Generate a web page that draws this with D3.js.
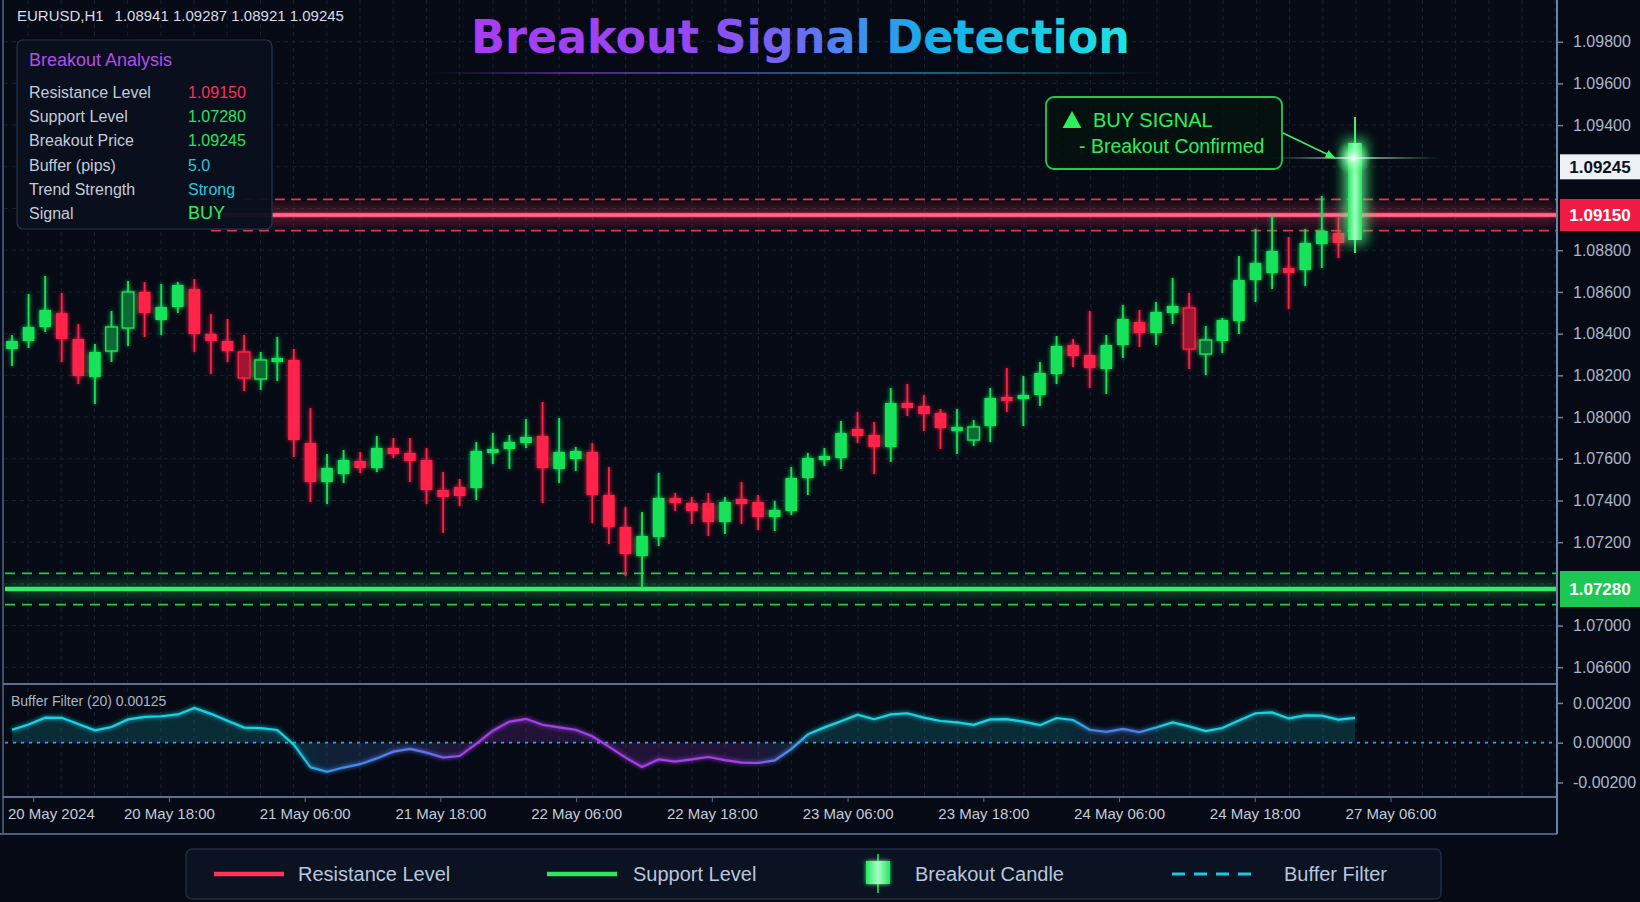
<!DOCTYPE html>
<head>
<meta charset="utf-8">
<title>Breakout Signal Detection</title>
<script src="https://d3js.org/d3.v7.min.js"></script>
<style>
body { margin: 0; background: #060a14; }
svg { display: block; font-family: "Liberation Sans", Arial, sans-serif; }
.grid line { stroke: #172233; stroke-dasharray: 4,4; stroke-width: 1; }
.axis path { display: none; }
.axis line { stroke: #6a82a6; stroke-width: 1.5; }
.axis text { fill: #a9b6cb; font-size: 16px; }
.xlabel { fill: #c3ccdb; font-size: 15px; }
.frame { stroke: #5b7191; stroke-width: 2; }
.panel-label { fill: #c3cbd9; font-size: 16px; }
.legend-text { fill: #b9c6dc; font-size: 20px; }
</style>
</head>
<body>
<div id="container"></div>
<script>
//---------------------------- DATA ----------------------------//
const symbolName = "EURUSD,H1";
const headerOHLC = ["1.08941", "1.09287", "1.08921", "1.09245"];

const opens = [1.08480,1.08520,1.08590,1.08660,1.08530,1.08340,1.08470,1.08585,1.08765,1.08625,
  1.08690,1.08780,1.08555,1.08520,1.08465,1.08330,1.08415,1.08425,1.08010,1.07815,
  1.07855,1.07920,1.07885,1.07985,1.07960,1.07925,1.07775,1.07790,1.07785,1.07960,
  1.07980,1.08010,1.08045,1.07880,1.07930,1.07965,1.07750,1.07590,1.07445,1.07540,
  1.07735,1.07710,1.07710,1.07615,1.07730,1.07715,1.07640,1.07670,1.07835,1.07925,
  1.07935,1.08080,1.08050,1.07990,1.08210,1.08195,1.08160,1.08070,1.08025,1.08095,
  1.08240,1.08230,1.08250,1.08355,1.08500,1.08450,1.08380,1.08500,1.08615,1.08560,
  1.08660,1.08685,1.08455,1.08520,1.08620,1.08825,1.08860,1.08885,1.08875,1.09005,
  1.09060,1.09025];
const highs = [1.08550,1.08755,1.08845,1.08760,1.08605,1.08505,1.08670,1.08820,1.08815,1.08805,
  1.08815,1.08830,1.08655,1.08630,1.08550,1.08465,1.08540,1.08480,1.08185,1.07955,
  1.07975,1.07965,1.08045,1.08035,1.08035,1.07985,1.07865,1.07830,1.08015,1.08060,
  1.08050,1.08130,1.08215,1.08135,1.07990,1.08010,1.07890,1.07690,1.07665,1.07860,
  1.07760,1.07740,1.07760,1.07740,1.07815,1.07750,1.07720,1.07890,1.07960,1.07985,
  1.08120,1.08165,1.08115,1.08285,1.08305,1.08250,1.08180,1.08180,1.08125,1.08285,
  1.08385,1.08345,1.08415,1.08545,1.08530,1.08670,1.08550,1.08700,1.08675,1.08715,
  1.08835,1.08760,1.08595,1.08635,1.08945,1.09080,1.09150,1.09040,1.09080,1.09245,
  1.09140,1.09640];
const lows = [1.08395,1.08485,1.08565,1.08415,1.08305,1.08205,1.08415,1.08495,1.08540,1.08550,
  1.08660,1.08465,1.08355,1.08415,1.08270,1.08275,1.08320,1.07940,1.07715,1.07705,
  1.07810,1.07860,1.07865,1.07935,1.07815,1.07705,1.07560,1.07695,1.07725,1.07905,
  1.07880,1.07985,1.07710,1.07810,1.07870,1.07610,1.07505,1.07345,1.07285,1.07495,
  1.07670,1.07605,1.07545,1.07555,1.07605,1.07575,1.07570,1.07650,1.07750,1.07895,
  1.07880,1.08010,1.07855,1.07915,1.08145,1.08070,1.07980,1.07955,1.07995,1.08015,
  1.08165,1.08095,1.08195,1.08305,1.08390,1.08285,1.08255,1.08435,1.08490,1.08500,
  1.08605,1.08380,1.08350,1.08460,1.08555,1.08715,1.08780,1.08680,1.08795,1.08885,
  1.08935,1.08960];
const closes = [1.08520,1.08590,1.08675,1.08530,1.08345,1.08465,1.08590,1.08765,1.08660,1.08690,
  1.08800,1.08555,1.08520,1.08470,1.08335,1.08425,1.08435,1.08025,1.07815,1.07885,
  1.07925,1.07885,1.07985,1.07955,1.07920,1.07775,1.07740,1.07745,1.07970,1.07980,
  1.08015,1.08040,1.07885,1.07965,1.07970,1.07750,1.07590,1.07455,1.07545,1.07735,
  1.07710,1.07670,1.07615,1.07715,1.07705,1.07640,1.07675,1.07835,1.07935,1.07945,
  1.08060,1.08045,1.07990,1.08210,1.08185,1.08155,1.08085,1.08090,1.08090,1.08235,
  1.08220,1.08250,1.08360,1.08495,1.08445,1.08385,1.08500,1.08630,1.08560,1.08665,
  1.08695,1.08480,1.08525,1.08625,1.08825,1.08910,1.08970,1.08860,1.09010,1.09070,
  1.09010,1.09510];
// candles drawn faded in the picture
const dimCandles = [6, 7, 14, 15, 58, 71, 72];

const bufferFilter = [0.00065,0.00091,0.00126,0.00125,0.00094,0.00062,0.00079,0.00117,0.00130,0.00133,
  0.00142,0.00175,0.00145,0.00110,0.00076,0.00073,0.00064,-0.00010,-0.00124,-0.00147,
  -0.00125,-0.00108,-0.00079,-0.00045,-0.00031,-0.00050,-0.00075,-0.00067,-0.00006,0.00060,
  0.00106,0.00120,0.00090,0.00077,0.00065,0.00032,-0.00020,-0.00075,-0.00122,-0.00084,
  -0.00095,-0.00084,-0.00072,-0.00088,-0.00100,-0.00102,-0.00089,-0.00032,0.00042,0.00077,
  0.00108,0.00141,0.00118,0.00142,0.00148,0.00126,0.00109,0.00102,0.00090,0.00117,
  0.00118,0.00106,0.00088,0.00124,0.00114,0.00065,0.00054,0.00069,0.00053,0.00076,
  0.00102,0.00082,0.00058,0.00074,0.00112,0.00148,0.00152,0.00122,0.00137,0.00136,
  0.00116,0.00125];
const bufferPeriod = 20;

const resistance = 1.09150;
const support = 1.07280;
const bufferBand = 0.00078;

const priceLabels = ["1.09800","1.09600","1.09400","1.09245","1.09150","1.08800","1.08600","1.08400",
  "1.08200","1.08000","1.07600","1.07400","1.07200","1.07280","1.07000","1.06600"];
const tagLabels = ["1.09245","1.09150","1.07280"];
const subTicks = [0.002, 0, -0.002];
const timeLabels = ["20 May 2024","20 May 18:00","21 May 06:00","21 May 18:00","22 May 06:00",
  "22 May 18:00","23 May 06:00","23 May 18:00","24 May 06:00","24 May 18:00","27 May 06:00"];

const panelLabels = ["Resistance Level","Support Level","Breakout Price","Buffer (pips)","Trend Strength","Signal"];
const panelValues = ["1.09150","1.07280","1.09245","5.0","Strong","BUY"];
const legendNames = ["Resistance Level","Support Level","Breakout Candle","Buffer Filter"];

//---------------------------- LAYOUT ----------------------------//
const width = 1640, height = 902;
const axisX = 1557, mainBottom = 684, subBottom = 797, xLabelLine = 834;
const GREEN = "#16e35a", RED = "#ff2048";
const panelColors = ["#ff2d55", "#27e35c", "#27e35c", "#20c8dc", "#20c8dc", "#2bef5a"];

const svg = d3.select("#container").append("svg")
    .attr("width", width).attr("height", height);

svg.append("rect").attr("width", width).attr("height", height).attr("fill", "#060a14");

const defs = svg.append("defs");
function glow(id, sd) {
  const f = defs.append("filter").attr("id", id)
      .attr("filterUnits", "userSpaceOnUse")
      .attr("x", 0).attr("y", 0).attr("width", width).attr("height", height);
  f.append("feGaussianBlur").attr("in", "SourceGraphic").attr("stdDeviation", sd).attr("result", "b");
  const m = f.append("feMerge");
  m.append("feMergeNode").attr("in", "b");
  m.append("feMergeNode").attr("in", "SourceGraphic");
}
glow("glow", 2);
glow("glowBig", 7);
defs.append("filter").attr("id", "blur")
    .attr("filterUnits", "userSpaceOnUse")
    .attr("x", 0).attr("y", 0).attr("width", width).attr("height", height)
  .append("feGaussianBlur").attr("stdDeviation", 6);

function linGrad(id, x1, x2, stops) {
  const g = defs.append("linearGradient").attr("id", id)
      .attr("gradientUnits", "userSpaceOnUse")
      .attr("x1", x1).attr("x2", x2).attr("y1", 0).attr("y2", 0);
  stops.forEach(s => g.append("stop").attr("offset", s[0]).attr("stop-color", s[1])
      .attr("stop-opacity", s[2] === undefined ? 1 : s[2]));
  return g;
}
linGrad("titleGrad", 471, 1130, [[0, "#a93cf1"], [0.35, "#9548f2"], [0.5, "#6c6cf0"],
  [0.6, "#3a92ee"], [0.7, "#17aee8"], [1, "#1ee3e0"]]);
linGrad("underGrad", 429, 1161, [[0, "#8a3ad8", 0], [0.2, "#8a3ad8", 0.8], [0.7, "#1aa0b8", 0.8], [1, "#1aa0b8", 0]]);
linGrad("bufGrad", 0, axisX, [[0, "#18d4e4"], [290 / axisX, "#18d4e4"], [330 / axisX, "#3f8fe8"],
  [420 / axisX, "#5c74ee"], [470 / axisX, "#a33fe6"], [740 / axisX, "#a33fe6"], [790 / axisX, "#4a8fea"],
  [815 / axisX, "#18d4e4"], [1065 / axisX, "#18d4e4"], [1095 / axisX, "#4a82e8"], [1140 / axisX, "#4a82e8"],
  [1165 / axisX, "#18d4e4"], [1, "#18d4e4"]]);
linGrad("flareGrad", 1270, 1440, [[0, "#7dffa0", 0], [0.5, "#e6fff0", 1], [1, "#7dffa0", 0]]);
linGrad("candleGrad", 0, 1, [[0, "#22e862"], [0.5, "#a8ffc4"], [1, "#22e862"]])
    .attr("gradientUnits", "objectBoundingBox");
const rg = defs.append("radialGradient").attr("id", "glare");
rg.append("stop").attr("offset", 0).attr("stop-color", "#ffffff");
rg.append("stop").attr("offset", 0.2).attr("stop-color", "#c8ffd8").attr("stop-opacity", 0.85);
rg.append("stop").attr("offset", 1).attr("stop-color", "#22ff66").attr("stop-opacity", 0);

defs.append("clipPath").attr("id", "mainClip").append("rect")
    .attr("x", 4).attr("y", 0).attr("width", axisX - 4).attr("height", mainBottom);

defs.append("marker").attr("id", "arrow").attr("viewBox", "0 0 10 10")
    .attr("refX", 9).attr("refY", 5).attr("markerWidth", 7).attr("markerHeight", 7)
    .attr("orient", "auto")
  .append("path").attr("d", "M0,1 L10,5 L0,9 z").attr("fill", "#3cf06a");

//---------------------------- SCALES ----------------------------//
const candles = opens.map((o, i) => ({
  i: i, o: o, h: highs[i], l: lows[i], c: closes[i], dim: dimCandles.includes(i)
}));
const last = candles.length - 1;
const x = d3.scaleLinear().domain([0, last]).range([12, 1355]);
const y = d3.scaleLinear().domain([1.06805, 1.10225]).range([mainBottom, 0]);
const ySlot = d3.scalePoint().domain(priceLabels).range([41.7, 667.3]);
const subY = d3.scaleLinear().domain([-0.00273, 0.00295]).range([subBottom, mainBottom]);
const xLab = d3.scalePoint().domain(timeLabels).range([33.7, 1391]);

//---------------------------- GRID ----------------------------//
const grid = svg.append("g").attr("class", "grid");
grid.selectAll(".h").data(priceLabels).enter().append("line")
    .attr("x1", 4).attr("x2", axisX)
    .attr("y1", d => ySlot(d)).attr("y2", d => ySlot(d));
grid.selectAll(".v").data(d3.range(28, axisX, 33.2)).enter().append("line")
    .attr("x1", d => d).attr("x2", d => d)
    .attr("y1", 0).attr("y2", subBottom);

//---------------------------- TITLE ----------------------------//
svg.append("text")
    .attr("x", 471).attr("y", 53)
    .attr("textLength", 659).attr("lengthAdjust", "spacingAndGlyphs")
    .style("font-family", "'DejaVu Sans', sans-serif")
    .style("font-weight", "bold").style("font-size", "46px")
    .attr("fill", "url(#titleGrad)")
    .text("Breakout Signal Detection");
svg.append("line").attr("x1", 429).attr("x2", 1161).attr("y1", 73).attr("y2", 73)
    .attr("stroke", "url(#underGrad)").attr("stroke-width", 1.5);

//---------------------------- LEVELS ----------------------------//
const levels = svg.append("g").attr("clip-path", "url(#mainClip)");
const rStart = x(12);
// resistance
[resistance + bufferBand, resistance - bufferBand].forEach(v => {
  levels.append("line").attr("x1", rStart).attr("x2", axisX)
      .attr("y1", y(v)).attr("y2", y(v))
      .attr("stroke", "#e8304f").attr("stroke-width", 1.6).attr("stroke-dasharray", "10,6");
});
levels.append("line").attr("x1", rStart).attr("x2", axisX)
    .attr("y1", y(resistance)).attr("y2", y(resistance))
    .attr("stroke", "#ff3b64").attr("stroke-width", 18).attr("opacity", 0.3).attr("filter", "url(#blur)");
levels.append("line").attr("x1", rStart).attr("x2", axisX)
    .attr("y1", y(resistance)).attr("y2", y(resistance))
    .attr("stroke", "#ff4f7a").attr("stroke-width", 4.5);
levels.append("line").attr("x1", rStart).attr("x2", axisX)
    .attr("y1", y(resistance)).attr("y2", y(resistance))
    .attr("stroke", "#ffa0b8").attr("stroke-width", 1.2).attr("opacity", 0.7);
// support
[support + bufferBand, support - bufferBand].forEach(v => {
  levels.append("line").attr("x1", 5).attr("x2", axisX)
      .attr("y1", y(v)).attr("y2", y(v))
      .attr("stroke", "#22cc48").attr("stroke-width", 1.6).attr("stroke-dasharray", "10,7");
});
levels.append("line").attr("x1", 5).attr("x2", axisX)
    .attr("y1", y(support)).attr("y2", y(support))
    .attr("stroke", "#22ff66").attr("stroke-width", 14).attr("opacity", 0.25).attr("filter", "url(#blur)");
levels.append("line").attr("x1", 5).attr("x2", axisX)
    .attr("y1", y(support)).attr("y2", y(support))
    .attr("stroke", "#2ff064").attr("stroke-width", 4.5);

//---------------------------- CANDLES ----------------------------//
const bodyW = 11.5;
const cg = svg.append("g").attr("clip-path", "url(#mainClip)")
  .append("g").attr("filter", "url(#glow)");
const normal = candles.slice(0, last);
const c = cg.selectAll("g.candle").data(normal).enter().append("g").attr("class", "candle");
c.append("line")
    .attr("x1", d => x(d.i)).attr("x2", d => x(d.i))
    .attr("y1", d => y(d.h)).attr("y2", d => y(d.l))
    .attr("stroke", d => d.c >= d.o ? GREEN : RED).attr("stroke-width", 1.8);
c.append("rect")
    .attr("x", d => x(d.i) - bodyW / 2).attr("width", bodyW)
    .attr("y", d => y(Math.max(d.o, d.c)))
    .attr("height", d => Math.max(2.5, Math.abs(y(d.o) - y(d.c))))
    .attr("fill", d => d.dim ? (d.c >= d.o ? "#0e6a36" : "#a01232") : (d.c >= d.o ? GREEN : RED))
    .attr("stroke", d => d.c >= d.o ? GREEN : RED)
    .attr("stroke-width", d => d.dim ? 1.4 : 0);

// breakout candle
const b = candles[last];
const bg = svg.append("g");
bg.append("rect")
    .attr("x", x(b.i) - 14).attr("width", 28)
    .attr("y", y(b.c) - 6).attr("height", y(b.o) - y(b.c) + 12)
    .attr("fill", "#22ff66").attr("opacity", 0.3).attr("filter", "url(#blur)");
bg.append("line")
    .attr("x1", x(b.i)).attr("x2", x(b.i)).attr("y1", y(b.h)).attr("y2", y(b.l))
    .attr("stroke", "#3cf070").attr("stroke-width", 2);
bg.append("rect")
    .attr("x", x(b.i) - 7).attr("width", 14)
    .attr("y", y(b.c)).attr("height", y(b.o) - y(b.c))
    .attr("fill", "url(#candleGrad)").attr("filter", "url(#glowBig)");
// glare at the breakout
const gx = x(b.i) - 2, gy = y(b.c) + 15;
bg.append("circle").attr("cx", gx).attr("cy", gy).attr("r", 18).attr("fill", "url(#glare)");
bg.append("rect").attr("x", 1270).attr("y", gy - 1).attr("width", 170).attr("height", 2)
    .attr("fill", "url(#flareGrad)").attr("opacity", 0.7);

//---------------------------- BUY SIGNAL BOX ----------------------------//
const sig = svg.append("g");
sig.append("rect").attr("x", 1046).attr("y", 97).attr("width", 236).attr("height", 72).attr("rx", 8)
    .attr("fill", "#04140c").attr("fill-opacity", 0.7)
    .attr("stroke", "#22cc48").attr("stroke-width", 1.8);
sig.append("path").attr("d", "M1062.5,128 L1072,111 L1081.5,128 Z").attr("fill", "#2bef5a");
sig.append("text").attr("x", 1093).attr("y", 127).attr("fill", "#2bef5a")
    .style("font-size", "20px").text("BUY SIGNAL");
sig.append("text").attr("x", 1079).attr("y", 152.5).attr("fill", "#2bef5a")
    .style("font-size", "19.5px").text("- Breakout Confirmed");
sig.append("line").attr("x1", 1283).attr("y1", 133).attr("x2", gx - 18).attr("y2", gy)
    .attr("stroke", "#3cf06a").attr("stroke-width", 1.5).attr("marker-end", "url(#arrow)");

//---------------------------- SUB PANEL ----------------------------//
const area = d3.area().x((d, i) => x(i)).y0(subY(0)).y1(d => subY(d));
const bline = d3.line().x((d, i) => x(i)).y(d => subY(d));
svg.append("path").datum(bufferFilter).attr("d", area)
    .attr("fill", "url(#bufGrad)").attr("fill-opacity", 0.17);
svg.append("line").attr("x1", 5).attr("x2", axisX).attr("y1", subY(0)).attr("y2", subY(0))
    .attr("stroke", "#3aa6d6").attr("stroke-width", 1.8).attr("stroke-dasharray", "3,5");
svg.append("path").datum(bufferFilter).attr("d", bline)
    .attr("fill", "none").attr("stroke", "url(#bufGrad)").attr("stroke-width", 2.2)
    .attr("filter", "url(#glow)");
svg.append("text").attr("x", 11).attr("y", 706).attr("fill", "#aab6c8").style("font-size", "14px")
    .text("Buffer Filter (" + bufferPeriod + ") " + bufferFilter[last].toFixed(5));

//---------------------------- INFO PANEL ----------------------------//
const info = svg.append("g");
info.append("rect").attr("x", 17).attr("y", 40).attr("width", 255).attr("height", 189).attr("rx", 6)
    .attr("fill", "#0a101d").attr("fill-opacity", 0.95)
    .attr("stroke", "#26354b").attr("stroke-width", 1.2);
info.append("text").attr("x", 29).attr("y", 66).attr("fill", "#b24ee8")
    .style("font-size", "18px").text("Breakout Analysis");
info.selectAll(".pl").data(panelLabels).enter().append("text")
    .attr("class", "panel-label").attr("x", 29).attr("y", (d, i) => 98 + i * 24.2).text(d => d);
info.selectAll(".pv").data(panelValues).enter().append("text")
    .attr("x", 188).attr("y", (d, i) => 98 + i * 24.2)
    .attr("fill", (d, i) => panelColors[i])
    .style("font-size", (d, i) => i === panelValues.length - 1 ? "18px" : "16px")
    .text(d => d);

//---------------------------- HEADER ----------------------------//
const hdr = svg.append("text").attr("x", 17).attr("y", 20.5).attr("fill", "#d8dde6").style("font-size", "15px");
hdr.append("tspan").text(symbolName);
hdr.append("tspan").attr("dx", 12).text(headerOHLC.join(" "));

//---------------------------- FRAMES ----------------------------//
svg.append("line").attr("class", "frame").attr("x1", 3).attr("x2", 3).attr("y1", 0).attr("y2", xLabelLine)
    .style("stroke", "#3c4e6a");
svg.append("line").attr("class", "frame").attr("x1", 3).attr("x2", axisX).attr("y1", mainBottom).attr("y2", mainBottom);
svg.append("line").attr("class", "frame").attr("x1", 3).attr("x2", axisX).attr("y1", subBottom).attr("y2", subBottom);
svg.append("line").attr("class", "frame").attr("x1", 0).attr("x2", axisX).attr("y1", xLabelLine).attr("y2", xLabelLine)
    .style("stroke", "#4a5d7a");
svg.append("line").attr("class", "frame").attr("x1", axisX).attr("x2", axisX).attr("y1", 0).attr("y2", xLabelLine)
    .style("stroke", "#6a82a6");

//---------------------------- AXES ----------------------------//
svg.append("g").attr("class", "axis")
    .attr("transform", "translate(" + axisX + ",0)")
    .call(d3.axisRight(ySlot).tickValues(priceLabels.filter(d => !tagLabels.includes(d)))
      .tickSize(6).tickPadding(10));
svg.append("g").attr("class", "axis")
    .attr("transform", "translate(" + axisX + ",0)")
    .call(d3.axisRight(subY).tickValues(subTicks).tickSize(6).tickPadding(10)
      .tickFormat(d => d.toFixed(5)));

// price tags
const tags = [
  { label: tagLabels[0], cy: ySlot(tagLabels[0]), h: 25, fill: "#eef2f7", color: "#0a1020" },
  { label: tagLabels[1], cy: y(resistance), h: 32, fill: "#ee1c45", color: "#ffffff" },
  { label: tagLabels[2], cy: y(support), h: 36, fill: "#1cc853", color: "#ffffff" }
];
const tg = svg.selectAll(".tag").data(tags).enter().append("g");
tg.append("rect").attr("x", 1560).attr("width", 80)
    .attr("y", d => d.cy - d.h / 2).attr("height", d => d.h).attr("fill", d => d.fill);
tg.append("text").attr("x", 1600).attr("y", d => d.cy + 6).attr("text-anchor", "middle")
    .attr("fill", d => d.color).style("font-size", "17px").style("font-weight", "bold")
    .text(d => d.label);

// time labels
const xl = svg.selectAll(".xlabel").data(timeLabels).enter().append("text")
    .attr("class", "xlabel").attr("y", 819).attr("text-anchor", "middle")
    .attr("x", d => xLab(d)).text(d => d);
xl.each(function () {
  const w = this.getComputedTextLength();
  const cx = +d3.select(this).attr("x");
  if (cx - w / 2 < 8) d3.select(this).attr("x", 8 + w / 2);
});
svg.selectAll(".xtick").data(timeLabels).enter().append("line")
    .attr("x1", d => xLab(d)).attr("x2", d => xLab(d))
    .attr("y1", subBottom).attr("y2", subBottom + 5)
    .attr("stroke", "#5b7191");

//---------------------------- LEGEND ----------------------------//
const legendX = [214, 547, 866, 1172];
const lg = svg.append("g");
lg.append("rect").attr("x", 186).attr("y", 849).attr("width", 1255).attr("height", 50).attr("rx", 6)
    .attr("fill", "#0b1222").attr("stroke", "#1f2c40").attr("stroke-width", 1.5);
const ly = 874;
lg.append("line").attr("x1", legendX[0]).attr("x2", legendX[0] + 70).attr("y1", ly).attr("y2", ly)
    .attr("stroke", "#ff3358").attr("stroke-width", 4.5);
lg.append("line").attr("x1", legendX[1]).attr("x2", legendX[1] + 70).attr("y1", ly).attr("y2", ly)
    .attr("stroke", "#2ee65c").attr("stroke-width", 4.5);
lg.append("line").attr("x1", legendX[2] + 12).attr("x2", legendX[2] + 12).attr("y1", 854).attr("y2", 893)
    .attr("stroke", "#22ee66").attr("stroke-width", 1.5);
lg.append("rect").attr("x", legendX[2]).attr("y", 861).attr("width", 24).attr("height", 23)
    .attr("fill", "url(#candleGrad)").attr("filter", "url(#glow)");
lg.append("line").attr("x1", legendX[3]).attr("x2", legendX[3] + 87).attr("y1", ly).attr("y2", ly)
    .attr("stroke", "#1ec8e0").attr("stroke-width", 3).attr("stroke-dasharray", "13,9");
const textOffset = [84, 86, 49, 112];
lg.selectAll(".legend-text").data(legendNames).enter().append("text")
    .attr("class", "legend-text").attr("x", (d, i) => legendX[i] + textOffset[i]).attr("y", ly + 7)
    .text(d => d);
</script>
</body>
